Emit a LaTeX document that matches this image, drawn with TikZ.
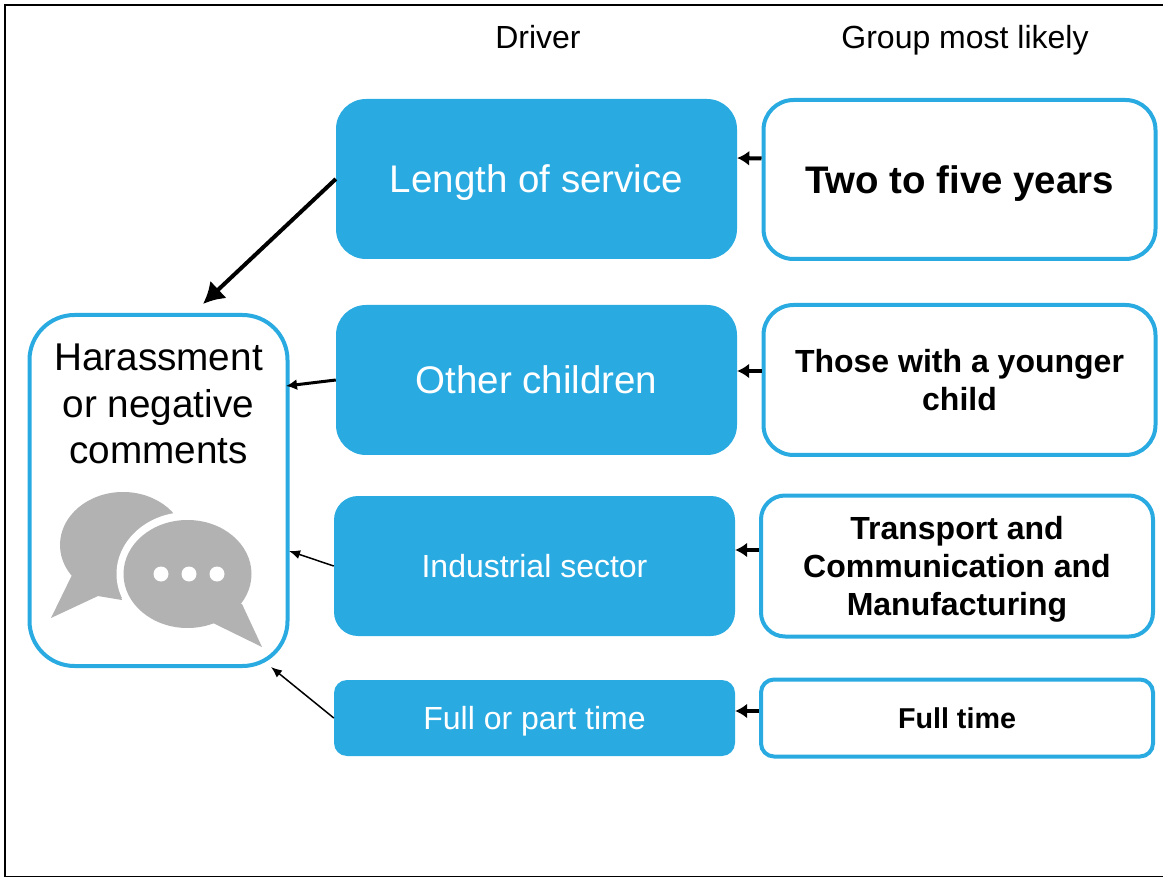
\documentclass[tikz,border=0pt]{standalone}
\usepackage{fontspec}
\setmainfont{Liberation Sans}
\usetikzlibrary{arrows.meta}
\definecolor{sky}{HTML}{29ABE2}
\definecolor{bubble}{HTML}{B2B2B2}
\newcommand{\sizept}[1]{\fontsize{#1}{1.2\dimexpr #1pt\relax}\selectfont}
\tikzset{
  solidbox/.style={fill=sky, text=white, rounded corners=#1, inner sep=0pt, align=center, text depth=0pt},
  openbox/.style={draw=sky, line width=4pt, fill=white, rounded corners=#1, inner sep=0pt, align=center, text depth=0pt},
  thicklink/.style={line width=4pt, -{Latex[length=21pt,width=24pt]}},
  shortlink/.style={line width=4pt, -{Latex[length=12pt,width=15pt]}},
  midlink/.style={line width=3pt, -{Latex[length=11pt,width=11pt]}},
  thinlink/.style={line width=1.5pt, -{Latex[length=11pt,width=9pt]}},
}
\begin{document}
\begin{tikzpicture}[x=1pt,y=-1pt]
\useasboundingbox (0,0) rectangle (1163,877);
\draw[line width=2pt] (1163,5.5) -- (5,5.5) -- (5,876.5) -- (1163,876.5);

\node[font=\sizept{32}, text depth=0pt] (driver) at (538,37) {Driver};
\node[font=\sizept{32}, text depth=0pt] (group) at (965,37) {Group most likely};

\node[solidbox=30pt, minimum width=401pt, minimum height=160pt, font=\sizept{38.5}] (service) at (536.5,179) {Length of service};
\node[solidbox=30pt, minimum width=401pt, minimum height=150pt, font=\sizept{38.5}] (children) at (536.5,380) {Other children};
\node[solidbox=24pt, minimum width=401pt, minimum height=140pt, font=\sizept{32}] (sector) at (534.5,566) {Industrial sector};
\node[solidbox=13pt, minimum width=401pt, minimum height=76pt, font=\sizept{32}] (hours) at (534.5,718) {Full or part time};

\node[openbox=30pt, minimum width=392pt, minimum height=159pt, font=\bfseries\sizept{38.4}] (years) at (959.5,179.5) {Two to five years};
\node[openbox=30pt, minimum width=392pt, minimum height=150pt, font=\bfseries\sizept{32}] (younger) at (959.5,380) {Those with a younger\\child};
\node[openbox=24pt, minimum width=392pt, minimum height=141pt, font=\bfseries\sizept{32}] (transport) at (957,566) {Transport and\\Communication and\\Manufacturing};
\node[openbox=13pt, minimum width=392pt, minimum height=77pt, font=\bfseries\sizept{28.7}] (fulltime) at (957,718) {Full time};

\node[openbox=45pt, minimum width=258pt, minimum height=351pt] (outcome) at (158.5,490.5) {};
\node[font=\sizept{38.7}, align=center] (outcometext) at (158.5,404) {Harassment\\or negative\\comments};

% speech bubbles
\fill[bubble] (123,545) ellipse [x radius=63, y radius=53];
\fill[bubble] (72,575) -- (51,618) -- (98,596) -- (122,600) -- (110,560) -- cycle;
\fill[white] (187.5,574) ellipse [x radius=71, y radius=62];
\fill[bubble] (187.5,574) ellipse [x radius=64, y radius=54];
\fill[bubble] (242,604) -- (262,647) -- (213,623) -- (205,600) -- cycle;
\foreach \x in {161,189,217} \fill[white] (\x,574) circle (7.5);

\coordinate (outcomea) at (203,304);
\coordinate (outcomeb) at (286,386);
\coordinate (outcomec) at (289,551);
\coordinate (outcomed) at (271,667);

\draw[thicklink] (service.west) -- (outcomea);
\draw[midlink] (children.west) -- (outcomeb);
\draw[thinlink] (sector.west) -- (outcomec);
\draw[thinlink] (hours.west) -- (outcomed);

\foreach \a/\b/\s in {years/service/21, younger/children/9, transport/sector/16, fulltime/hours/7}
  \draw[shortlink] ([yshift=\s pt]\a.west) -- ([yshift=\s pt]\b.east);
\end{tikzpicture}
\end{document}
